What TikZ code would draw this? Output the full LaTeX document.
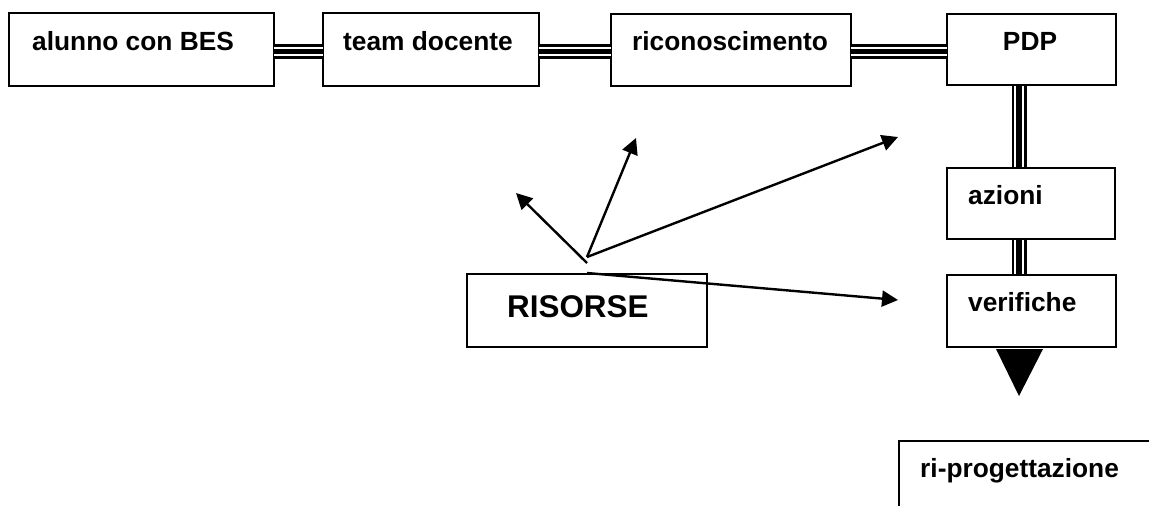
\documentclass[tikz,border=0pt]{standalone}
\usepackage{fontspec}
\setmainfont{Liberation Sans}
\usetikzlibrary{arrows.meta,calc}
\begin{document}
\begin{tikzpicture}[x=1pt,y=-1pt,
  box/.style={draw, line width=2pt, rectangle, inner sep=0pt, outer sep=0pt},
  lbl/.style={anchor=base west, inner sep=0pt, font=\bfseries\fontsize{26.3}{31}\selectfont},
  biglbl/.style={anchor=base west, inner sep=0pt, font=\bfseries\fontsize{31.4}{36}\selectfont},
  triple/.style={line width=15pt, draw=black, line cap=butt,
    postaction={draw=white, line width=9.5pt},
    postaction={draw=black, line width=5.5pt}},
  arr/.style={line width=2.4pt, -{Triangle[length=16pt,width=16pt]}}]
\fill[white] (0,0) rectangle (1149,506);
\clip (0,0) rectangle (1149,506);

% boxes
\node[box, minimum width=265pt, minimum height=73pt] (alunno) at (141.5,49.5) {};
\node[box, minimum width=216pt, minimum height=73pt] (team) at (431,49.5) {};
\node[box, minimum width=240pt, minimum height=72pt] (ricon) at (731,50) {};
\node[box, minimum width=169pt, minimum height=71pt] (pdp) at (1031.5,49.5) {};
\node[box, minimum width=168pt, minimum height=71pt] (azioni) at (1031,203.5) {};
\node[box, minimum width=240pt, minimum height=73pt] (risorse) at (587,310.5) {};
\node[box, minimum width=300pt, minimum height=120pt, anchor=north west] (riprog) at (899,441) {};

% labels
\node[lbl] (talunno) at (32,50) {alunno con BES};
\node[lbl] (tteam) at (343,50) {team docente};
\node[lbl] (tricon) at (632,50) {riconoscimento};
\node[lbl, anchor=base] (tpdp) at (1030,50) {PDP};
\node[lbl] (tazioni) at (968,204) {azioni};
\node[lbl] (triprog) at (920,477) {ri-progettazione};
\node[biglbl] (trisorse) at (507,317) {RISORSE};

% triple connectors
\draw[triple] ($(alunno.east)+(0,2.2)$) -- ($(team.west)+(0,2.2)$);
\draw[triple] ($(team.east)+(0,2.2)$) -- ($(ricon.west)+(0,1.7)$);
\draw[triple] ($(ricon.east)+(0,1.7)$) -- ($(pdp.west)+(0,2.2)$);
\coordinate (vx) at (1019,0);
\draw[triple] (pdp.south -| vx) -- (azioni.north -| vx);
\draw[triple] (azioni.south -| vx) -- ($(azioni.south -| vx)+(0,80)$);

% box edges over connectors
\draw[line width=2pt] (pdp.south west) -- (pdp.south east);
\draw[line width=2pt] (azioni.north west) -- (azioni.north east);
\draw[line width=2pt] (azioni.south west) -- (azioni.south east);
\node[box, fill=white, minimum width=169pt, minimum height=72pt] (verif) at (1031.5,311) {};
\node[lbl] (tverif) at (968,311) {verifiche};

% big triangle
\fill ($(verif.south -| vx)+(-23,2)$) -- ($(verif.south -| vx)+(24,2)$) -- ($(verif.south -| vx)+(0,49)$) -- cycle;

% arrows from RISORSE
\coordinate (o1) at (587,263);
\coordinate (o2) at (587,257);
\coordinate (o3) at (587,273);
\coordinate (t1) at (516,193);
\coordinate (t2) at (636,138);
\coordinate (t3) at (898,137);
\coordinate (t4) at (898,300);
\draw[arr] (o1) -- (t1);
\draw[arr] (o2) -- (t2);
\draw[arr] (o2) -- (t3);
\draw[arr] (o3) -- (t4);
\end{tikzpicture}
\end{document}
